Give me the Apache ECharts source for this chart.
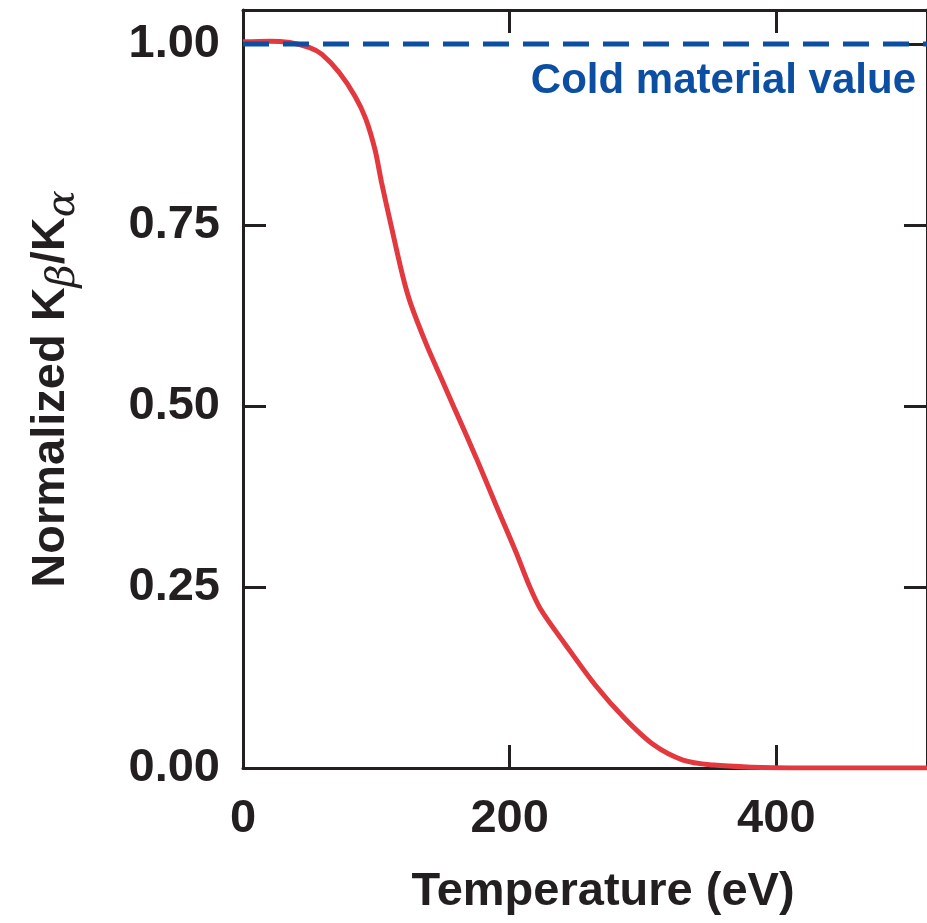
<!DOCTYPE html>
<html>
<head>
<meta charset="utf-8">
<script src="https://cdn.jsdelivr.net/npm/echarts@6/dist/echarts.min.js"></script>
<style>html,body{margin:0;padding:0;background:#fff}#c{width:927px;height:923px}</style>
</head>
<body>
<div id="c"></div>
<script>
// Temperature (eV) and normalized Kβ/Kα ratio (red curve)
const temperature = [0, 20, 35, 50, 59, 72, 84, 92, 99, 104, 111, 120, 126, 138, 149, 159, 175, 190, 205, 214, 223, 242, 264, 286, 308, 330, 353, 382, 412, 450, 513];
const ratio       = [1.003, 1.004, 1.002, 0.995, 0.986, 0.961, 0.928, 0.897, 0.854, 0.808, 0.75, 0.678, 0.640, 0.583, 0.537, 0.495, 0.428, 0.362, 0.297, 0.255, 0.220, 0.170, 0.115, 0.069, 0.032, 0.011, 0.004, 0.001, 0.0, 0.0, 0.0];
// Cold material reference value
const coldX = [0, 513];
const coldValue = [1.0, 1.0];
const coldLabel = 'Cold material value';
const xTicks = [0, 200, 400];
const yTicks = [0, 0.25, 0.5, 0.75, 1.0];

const FONT = '"Liberation Sans", Arial, Helvetica, sans-serif';
const DARK = '#231f20';
const chart = echarts.init(document.getElementById('c'), null, {renderer: 'canvas'});
const axisLine = {show: true, onZero: false, lineStyle: {color: DARK, width: 3}};
const tick = {show: true, inside: true, length: 23, lineStyle: {color: DARK, width: 3}};

chart.setOption({
  animation: false,
  backgroundColor: '#fff',
  grid: {left: 243, top: 10, width: 694, height: 758},
  xAxis: [{
    type: 'value', min: 0, max: 513, interval: 200, position: 'bottom',
    axisLine, axisTick: tick, splitLine: {show: false},
    axisLabel: {margin: 28, fontFamily: FONT, fontWeight: 'bold', fontSize: 47, color: DARK, showMaxLabel: false,
      formatter: v => xTicks.includes(v) ? String(v) : ''},
    name: 'Temperature (eV)', nameLocation: 'middle', nameGap: 101,
    nameTextStyle: {fontFamily: FONT, fontWeight: 'bold', fontSize: 47, color: DARK, padding: [0, 0, 0, 36]}
  }, {
    type: 'value', min: 0, max: 513, interval: 200, position: 'top',
    axisLine, axisTick: tick, splitLine: {show: false}, axisLabel: {show: false}
  }],
  yAxis: [{
    type: 'value', min: 0, max: 1.047, interval: 0.25, position: 'left',
    axisLine, axisTick: tick, splitLine: {show: false},
    axisLabel: {margin: 23, fontFamily: FONT, fontWeight: 'bold', fontSize: 47, color: DARK, showMaxLabel: false,
      formatter: v => yTicks.some(t => Math.abs(t - v) < 1e-9) ? v.toFixed(2) : ''},
    name: '{a|Normalized K}{b|β}{a|/K}{b|α}', nameLocation: 'middle', nameGap: 165,
    nameTextStyle: {
      rich: {
        a: {fontFamily: FONT, fontWeight: 'bold', fontSize: 47, color: DARK, lineHeight: 50, verticalAlign: 'top'},
        b: {fontFamily: '"DejaVu Serif", serif', fontStyle: 'italic', fontSize: 40, color: DARK, lineHeight: 50, verticalAlign: 'top', padding: [16, 0, 0, 0]}
      }
    }
  }, {
    type: 'value', min: 0, max: 1.047, interval: 0.25, position: 'right',
    axisLine, axisTick: tick, splitLine: {show: false}, axisLabel: {show: false}
  }],
  series: [{
    type: 'line', xAxisIndex: 0, yAxisIndex: 0,
    data: temperature.map((t, i) => [t, ratio[i]]),
    smooth: 0.3, showSymbol: false, z: 2,
    lineStyle: {color: '#e2383e', width: 5}
  }, {
    type: 'line', xAxisIndex: 0, yAxisIndex: 0,
    data: coldX.map((t, i) => [t, coldValue[i]]),
    showSymbol: false, z: 3,
    lineStyle: {color: '#0b4ea2', width: 5, type: [26, 14]}
  }],
  graphic: [{
    type: 'text', right: 11, top: 60, z: 10,
    style: {text: coldLabel, font: 'bold 42px ' + FONT, fill: '#0b4ea2'}
  }]
});
</script>
</body>
</html>
